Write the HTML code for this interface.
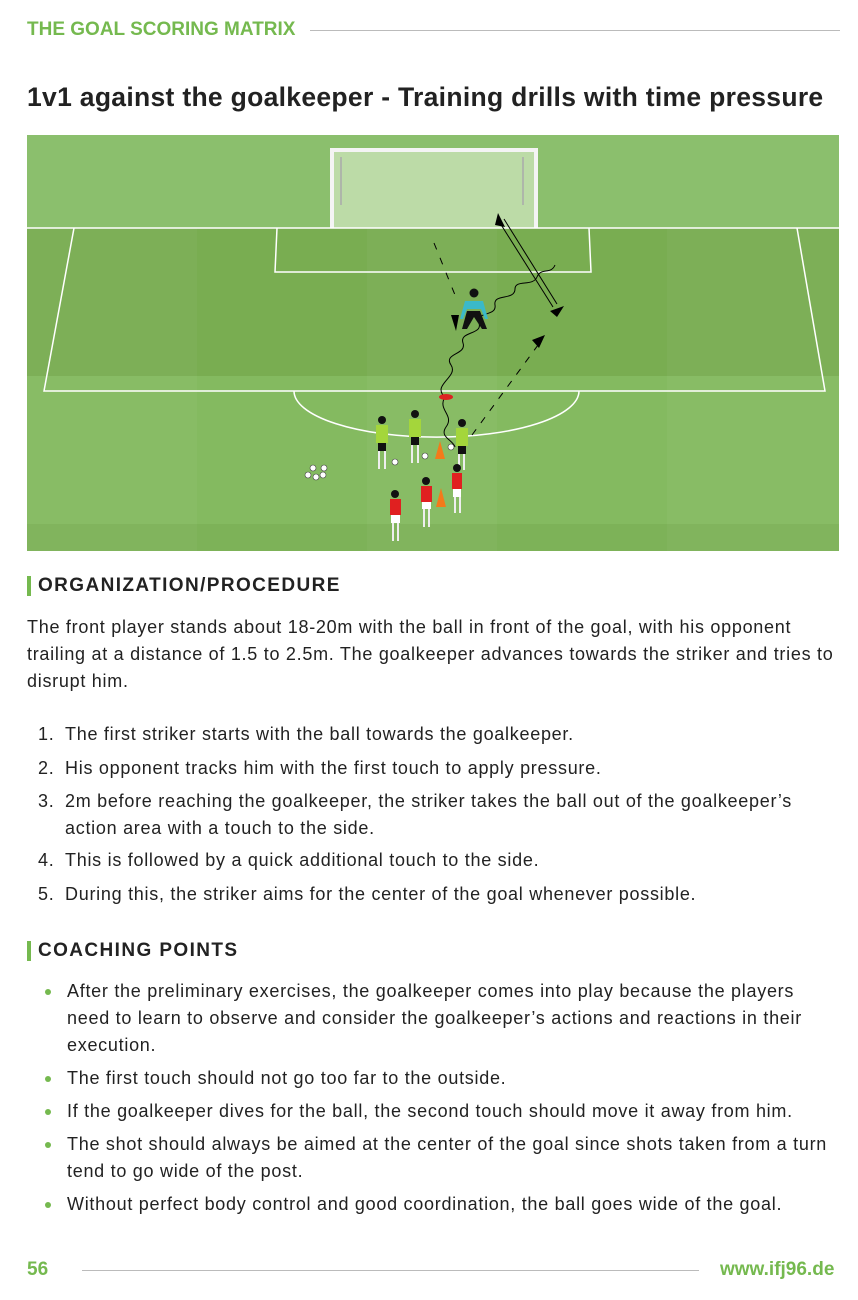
<!DOCTYPE html>
<html><head><meta charset="utf-8"><style>
body{margin:0;width:858px;height:1300px;background:#fff;position:relative;font-family:"Liberation Sans",sans-serif;color:#222;overflow:hidden}
.a{position:absolute;white-space:nowrap}
.g{color:#75b94f}
.t{font-size:18px;line-height:27px;letter-spacing:0.72px}
.h{font-size:19px;font-weight:bold;letter-spacing:1.4px;color:#222;border-left:4px solid #75b94f;padding-left:7px;line-height:20px}
.num{position:absolute;left:-27px}
.dot{position:absolute;left:-22px;top:11px;width:6px;height:6px;border-radius:50%;background:#75b94f}
</style></head><body>
<div class="a g" style="left:27px;top:19px;font-size:19px;font-weight:bold">THE GOAL SCORING MATRIX</div>
<div class="a" style="left:310px;top:30px;width:530px;height:1px;background:#bbb"></div>
<div class="a" style="left:27px;top:82px;font-size:26.5px;font-weight:bold;color:#222;letter-spacing:0.3px">1v1 against the goalkeeper - Training drills with time pressure</div>
<svg class="a" style="left:27px;top:135px" width="812" height="416" viewBox="0 0 812 416">
<rect width="812" height="416" fill="#86bb64"/>
<rect y="0" width="812" height="93" fill="#8bbf6d"/>
<rect y="93" width="812" height="148" fill="#79ad51"/>
<rect y="241" width="812" height="148" fill="#84ba60"/>
<rect y="389" width="812" height="27" fill="#7db258"/>
<g fill="#fff" opacity="0.035"><rect x="0" y="93" width="170" height="323"/><rect x="340" y="93" width="130" height="323"/><rect x="640" y="93" width="172" height="323"/></g>
<rect x="306" y="16" width="202" height="77" fill="#bcdba7"/>
<path d="M305 93 V15 H509 V93" fill="none" stroke="#f4f4f4" stroke-width="4"/>
<line x1="314" y1="22" x2="314" y2="70" stroke="#aaa" stroke-width="1.5"/><line x1="496" y1="22" x2="496" y2="70" stroke="#aaa" stroke-width="1.5"/>
<line x1="0" y1="93" x2="812" y2="93" stroke="#fff" stroke-width="1.5"/>
<path d="M47 93 L17 256 H798 L770 93" fill="none" stroke="#fff" stroke-width="1.5"/>
<path d="M250 93 L248 137 H564 L562 93" fill="none" stroke="#fff" stroke-width="1.5"/>
<path d="M267 256 A142 46 0 0 0 552 256" fill="none" stroke="#fff" stroke-width="1.5"/>
<line x1="407" y1="108" x2="428" y2="160" stroke="#000" stroke-dasharray="7,9"/>
<line x1="445" y1="300" x2="514" y2="206" stroke="#000" stroke-dasharray="7,8"/>
<polygon points="505,205 518,200 512,213" fill="#000"/>
<line x1="477" y1="84" x2="530" y2="169" stroke="#000"/><line x1="473" y1="88" x2="526" y2="172" stroke="#000"/>
<polygon points="471,78 478,92 468,90" fill="#000"/>
<path d="M418 262 C404 250 432 242 424 230 C416 218 440 220 436 208 C432 196 456 200 452 188 C448 176 470 182 468 170 C466 158 488 166 488 154 C488 144 506 152 510 142 C514 132 524 140 528 130" fill="none" stroke="#000"/>
<path d="M418 262 C410 275 428 280 419 292 C412 302 426 305 428 312" fill="none" stroke="#000"/>
<polygon points="537,171 523,176 530,182" fill="#000"/>
<ellipse cx="419" cy="262" rx="7" ry="3" fill="#d22"/>
<circle cx="447" cy="158" r="4.5" fill="#111"/>
<path d="M438 166 h18 l5 18 h-3 l-4-10 h-14 l-4 10 h-3z" fill="#3bb9c9"/>
<path d="M440 176 h13 l7 18 h-5 l-8-12 l-7 12 h-5z" fill="#111"/>
<polygon points="424,180 432,180 429,196" fill="#000"/>
<g fill="#a4d63b"><rect x="349" y="290" width="12" height="18"/><rect x="382" y="284" width="12" height="18"/><rect x="429" y="293" width="12" height="18"/></g>
<g fill="#111"><circle cx="355" cy="285" r="4"/><circle cx="388" cy="279" r="4"/><circle cx="435" cy="288" r="4"/>
<rect x="351" y="308" width="8" height="8"/><rect x="384" y="302" width="8" height="8"/><rect x="431" y="311" width="8" height="8"/></g>
<g stroke="#eee" stroke-width="2"><path d="M352 316 v18 M358 316 v18 M385 310 v18 M391 310 v18 M432 319 v16 M437 319 v16"/></g>
<g fill="#e02020"><rect x="425" y="338" width="10" height="16"/><rect x="394" y="351" width="11" height="16"/><rect x="363" y="364" width="11" height="16"/></g>
<g fill="#111"><circle cx="430" cy="333" r="4"/><circle cx="399" cy="346" r="4"/><circle cx="368" cy="359" r="4"/></g>
<g fill="#fff"><rect x="426" y="354" width="8" height="8"/><rect x="395" y="367" width="9" height="7"/><rect x="364" y="380" width="9" height="8"/></g>
<g stroke="#eee" stroke-width="2"><path d="M428 362 v16 M433 362 v16 M397 374 v18 M402 374 v18 M366 388 v18 M371 388 v18"/></g>
<g fill="#f47a1a"><polygon points="413,306 408,324 418,324"/><polygon points="414,353 409,372 419,372"/></g>
<g fill="#fff" stroke="#444" stroke-width="0.6"><circle cx="286" cy="333" r="3"/><circle cx="297" cy="333" r="3"/><circle cx="281" cy="340" r="3"/><circle cx="289" cy="342" r="3"/><circle cx="296" cy="340" r="3"/><circle cx="368" cy="327" r="3"/><circle cx="398" cy="321" r="3"/><circle cx="424" cy="312" r="3"/></g>
</svg>
<div class="a h" style="left:27px;top:576px">ORGANIZATION/PROCEDURE</div>
<div class="a t" style="left:27px;top:614px">The front player stands about 18-20m with the ball in front of the goal, with his opponent<br>trailing at a distance of 1.5 to 2.5m. The goalkeeper advances towards the striker and tries to<br>disrupt him.</div>
<div class="a t" style="left:65px;top:721px">
<div style="position:relative"><span class="num">1.</span>The first striker starts with the ball towards the goalkeeper.</div>
<div style="position:relative;margin-top:7px"><span class="num">2.</span>His opponent tracks him with the first touch to apply pressure.</div>
<div style="position:relative;margin-top:6px"><span class="num">3.</span>2m before reaching the goalkeeper, the striker takes the ball out of the goalkeeper’s<br>action area with a touch to the side.</div>
<div style="position:relative;margin-top:5px"><span class="num">4.</span>This is followed by a quick additional touch to the side.</div>
<div style="position:relative;margin-top:7px"><span class="num">5.</span>During this, the striker aims for the center of the goal whenever possible.</div>
</div>
<div class="a h" style="left:27px;top:941px">COACHING POINTS</div>
<div class="a t" style="left:67px;top:978px">
<div style="position:relative"><span class="dot"></span>After the preliminary exercises, the goalkeeper comes into play because the players<br>need to learn to observe and consider the goalkeeper’s actions and reactions in their<br>execution.</div>
<div style="position:relative;margin-top:6px"><span class="dot"></span>The first touch should not go too far to the outside.</div>
<div style="position:relative;margin-top:6px"><span class="dot"></span>If the goalkeeper dives for the ball, the second touch should move it away from him.</div>
<div style="position:relative;margin-top:6px"><span class="dot"></span>The shot should always be aimed at the center of the goal since shots taken from a turn<br>tend to go wide of the post.</div>
<div style="position:relative;margin-top:6px"><span class="dot"></span>Without perfect body control and good coordination, the ball goes wide of the goal.</div>
</div>
<div class="a g" style="left:27px;top:1259px;font-size:19px;font-weight:bold">56</div>
<div class="a" style="left:82px;top:1270px;width:617px;height:1px;background:#bbb"></div>
<div class="a g" style="left:720px;top:1259px;font-size:19px;font-weight:bold">www.ifj96.de</div>
</body></html>
